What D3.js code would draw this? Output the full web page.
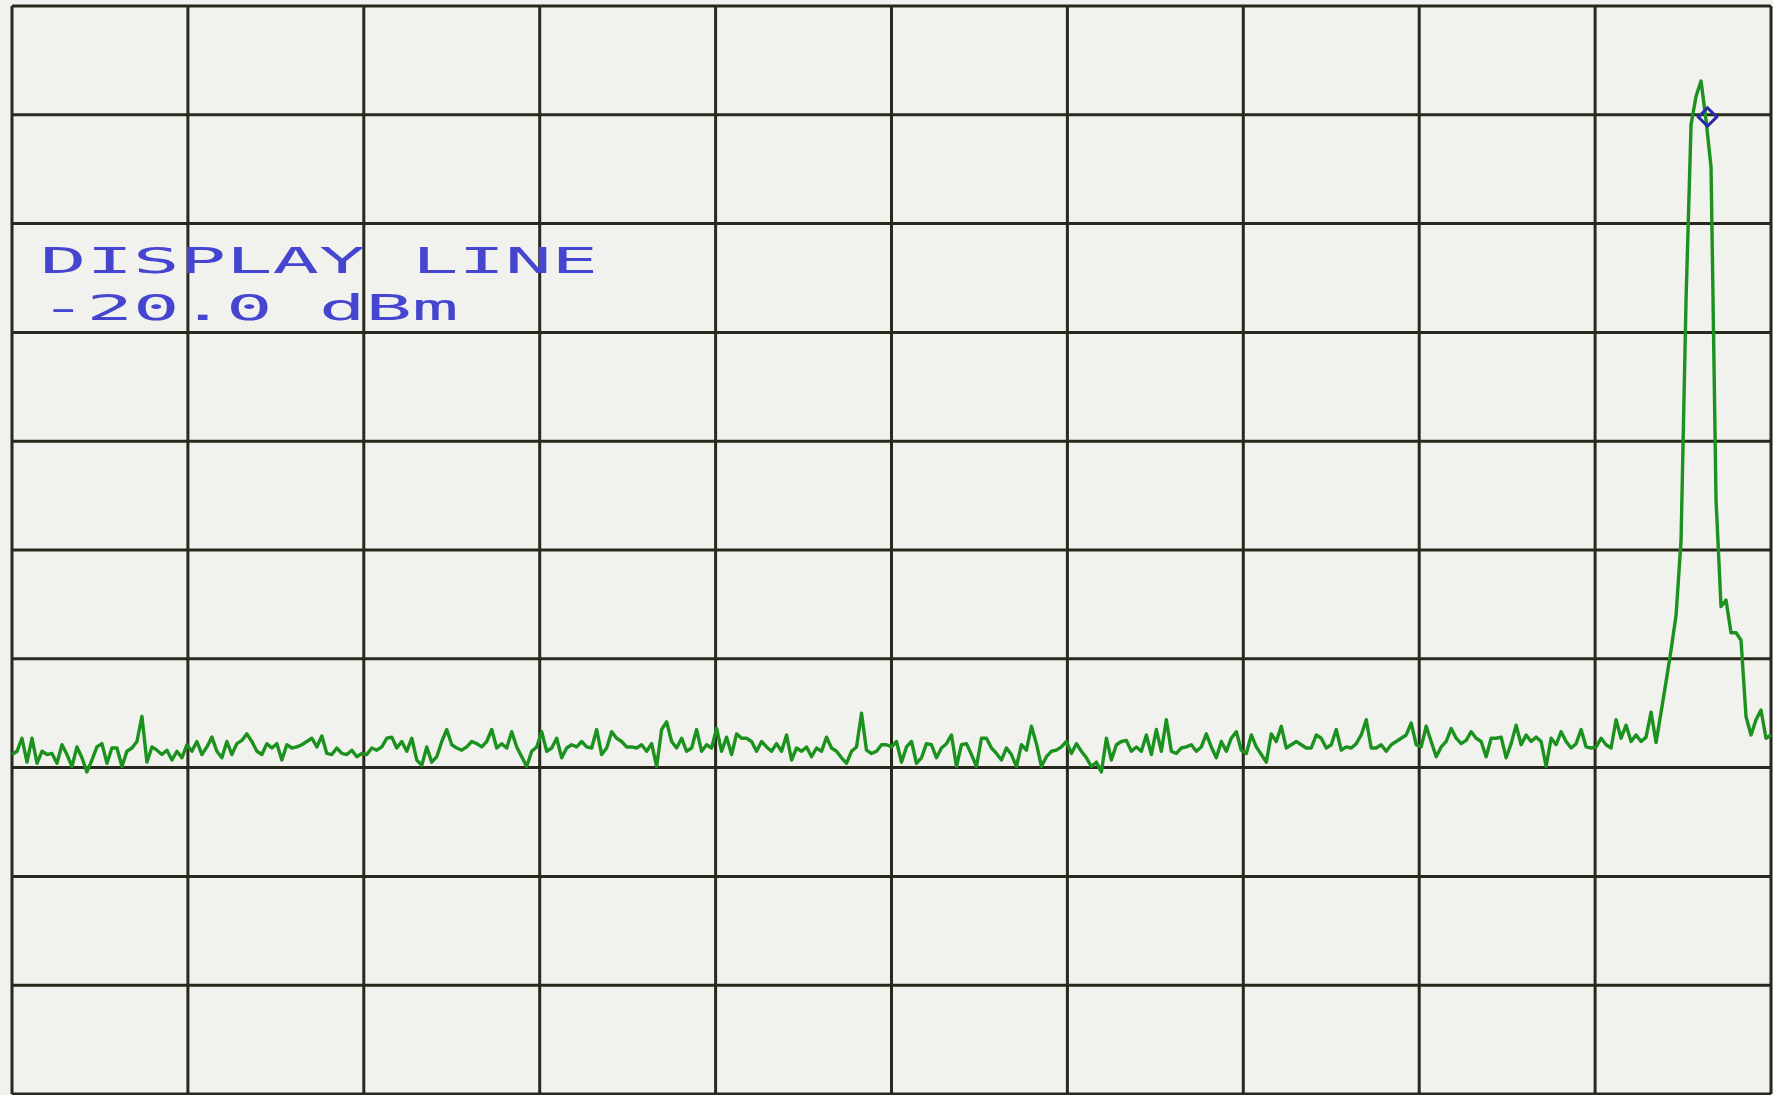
<!DOCTYPE html>
<html>
<head>
<meta charset="utf-8">
<script src="https://cdn.jsdelivr.net/npm/d3@7"></script>
<style>
  html, body { margin: 0; padding: 0; background: #f1f1ee; overflow: hidden; }
  .grid-line { stroke: #29281d; stroke-width: 3; }
  .trace { fill: none; stroke: #1b921e; stroke-width: 3.4; stroke-linejoin: round; }
  .marker { fill: none; stroke: #2a2aa8; stroke-width: 3; }
  .annotation { fill: #4545d0; font-family: 'DejaVu Sans Mono', monospace; font-size: 36px; }
</style>
</head>
<body>
<div id="screen"></div>
<script>
// Trace amplitude (dBm) for each sweep point left to right
const traceLevels = [
  -68.8,-68.5,-67.3,-69.5,-67.3,-69.6,-68.5,-68.8,-68.7,-69.6,
  -67.9,-68.8,-69.9,-68.1,-69.1,-70.4,-69.3,-68.1,-67.8,-69.6,
  -68.2,-68.2,-69.9,-68.5,-68.2,-67.6,-65.3,-69.5,-68.1,-68.4,
  -68.8,-68.4,-69.3,-68.5,-69.1,-67.9,-68.5,-67.6,-68.8,-68.1,
  -67.2,-68.5,-69.1,-67.6,-68.8,-67.8,-67.5,-66.9,-67.6,-68.5,
  -68.8,-67.8,-68.2,-67.8,-69.3,-67.9,-68.2,-68.1,-67.9,-67.6,
  -67.3,-68.1,-67.1,-68.7,-68.8,-68.2,-68.7,-68.8,-68.4,-69.0,
  -68.7,-68.8,-68.2,-68.4,-68.1,-67.3,-67.2,-68.2,-67.6,-68.5,
  -67.3,-69.3,-69.8,
  -68.1,-69.5,-69.0,-67.6,-66.5,-67.9,-68.2,-68.4,-68.1,-67.6,
  -67.8,-68.1,-67.6,-66.5,-68.2,-67.8,-68.2,-66.7,-68.1,-69.0,
  -69.9,-68.5,-68.1,-66.7,-68.5,-68.2,-67.3,-69.1,-68.2,-67.9,
  -68.1,-67.6,-68.1,-68.2,-66.5,-68.8,-68.2,-66.7,-67.3,-67.6,
  -68.1,-68.1,-68.2,-67.9,-68.5,-67.8,-69.9,-66.5,-65.8,-67.6,
  -68.2,-67.3,-68.5,-68.2,-66.5,-68.5,-67.9,-68.2,-66.4,-68.5,
  -67.2,-68.8,-66.9,-67.3,-67.3,-67.6,-68.5,-67.6,-68.1,-68.5,
  -67.8,-68.5,-67.0,-69.3,-68.2,-68.5,-68.1,-69.0,-68.2,-68.5,-67.2,
  -68.2,-68.5,-69.1,-69.6,-68.5,-68.1,-65.0,-68.4,-68.7,-68.5,
  -67.9,-67.9,-68.1,-67.6,-69.5,-68.1,-67.6,-69.6,-69.1,-67.8,
  -67.9,-69.1,-68.2,-67.8,-67.0,-69.9,-67.9,-67.8,-68.8,-69.9,
  -67.3,-67.3,-68.2,-68.7,-69.3,-68.2,-68.8,-69.9,-67.9,-68.4,
  -66.2,-67.8,-69.9,-69.0,-68.5,-68.4,-68.1,-67.6,-68.7,-67.8,
  -68.5,-69.1,-69.9,-69.5,-70.4,-67.3,-69.3,-67.9,-67.6,-67.5,
  -68.5,-68.1,-68.5,-67.0,-68.8,-66.5,-68.5,-65.6,-68.5,-68.7,
  -68.2,-68.1,-67.9,-68.5,-68.1,-66.9,-68.1,-69.1,-67.6,-68.5,-67.3,-66.7,
  -68.4,-68.7,-67.0,-68.1,-68.8,-69.5,-66.9,-67.6,-66.2,-68.2,
  -67.9,-67.6,-67.9,-68.2,-68.2,-67.0,-67.3,-68.2,-67.9,-66.5,
  -68.4,-68.1,-68.2,-67.8,-67.0,-65.6,-68.2,-68.2,-67.9,-68.5,
  -67.9,-67.6,-67.3,-67.0,-65.9,-67.9,-68.1,-66.2,-67.6,-69.0,
  -68.1,-67.6,-66.4,-67.3,-67.8,-67.5,-66.7,-67.3,-67.6,-69.0,
  -67.3,-67.3,-67.2,-69.1,-67.8,-66.1,-67.9,-67.0,-67.6,-67.2,
  -67.6,-69.9,-67.3,-67.9,-66.7,-67.6,-68.2,-67.8,-66.5,-68.1,
  -68.2,-68.1,-67.3,-67.9,-68.2,-65.6,-67.3,-66.1,-67.6,-67.0,-67.6,-67.2,
  // carrier
  -64.9,-67.7,-64.9,-62.1,-59.2,-56.0,-49.1,-27.0,-10.9,-8.3,
  -6.9,-10.5,-14.8,-45.4,-55.2,-54.6,-57.6,-57.6,-58.3,-65.3,
  -67.0,-65.6,-64.7,-67.3,-67.0
];

// Vertical graticule: reference level at top, 10 dB per division
const levelLines = [0, -10, -20, -30, -40, -50, -60, -70, -80, -90, -100];
// Horizontal graticule: 10 frequency divisions
const divisionLines = [0, 1, 2, 3, 4, 5, 6, 7, 8, 9, 10];

// Marker on the carrier peak
const markerPoint = 339.3;
const markerLevel = -10.2;

const annotationLines = ['DISPLAY LINE', '-20.0 dBm'];

class SpectrumScreen {
  constructor(_config, _trace) {
    this.config = {
      parentElement: _config.parentElement,
      containerWidth: _config.containerWidth || 1773,
      containerHeight: _config.containerHeight || 1095,
      margin: _config.margin || { top: 6, right: 2, bottom: 1, left: 12 },
      charPitch: 46.5
    }
    this.trace = _trace;
    this.initVis();
  }

  initVis() {
    let vis = this;

    vis.width = vis.config.containerWidth - vis.config.margin.left - vis.config.margin.right;
    vis.height = vis.config.containerHeight - vis.config.margin.top - vis.config.margin.bottom;

    vis.svg = d3.select(vis.config.parentElement).append('svg')
      .attr('width', vis.config.containerWidth)
      .attr('height', vis.config.containerHeight)
      .style('display', 'block');

    vis.chart = vis.svg.append('g')
      .attr('transform', `translate(${vis.config.margin.left},${vis.config.margin.top})`);

    // sweep point -> x, division -> x, dBm -> y
    vis.xScale = d3.scaleLinear()
      .domain([0, vis.trace.length - 1])
      .range([0, vis.width]);
    vis.divScale = d3.scaleLinear()
      .domain([0, 10])
      .range([0, vis.width]);
    vis.yScale = d3.scaleLinear()
      .domain([0, -100])
      .range([0, vis.height]);

    vis.renderVis();
  }

  renderVis() {
    let vis = this;

    // graticule
    vis.chart.selectAll('.grid-h')
      .data(levelLines)
      .join('line')
      .attr('class', 'grid-line grid-h')
      .attr('x1', 0)
      .attr('x2', vis.width)
      .attr('y1', d => vis.yScale(d))
      .attr('y2', d => vis.yScale(d));

    vis.chart.selectAll('.grid-v')
      .data(divisionLines)
      .join('line')
      .attr('class', 'grid-line grid-v')
      .attr('x1', d => vis.divScale(d))
      .attr('x2', d => vis.divScale(d))
      .attr('y1', 0)
      .attr('y2', vis.height);

    // annotation text, stretched to the plotter's wide character cell
    vis.svg.selectAll('.annotation')
      .data(annotationLines)
      .join('text')
      .attr('class', 'annotation')
      .attr('x', 40)
      .attr('y', (d, i) => 273 + i * 47)
      .attr('textLength', d => d.length * vis.config.charPitch)
      .attr('lengthAdjust', 'spacingAndGlyphs')
      .text(d => d);

    // trace
    const line = d3.line()
      .x((d, i) => vis.xScale(i))
      .y(d => vis.yScale(d));

    vis.chart.append('path')
      .datum(vis.trace)
      .attr('class', 'trace')
      .attr('d', line);

    // peak marker
    vis.chart.append('path')
      .attr('class', 'marker')
      .attr('d', d3.symbol(d3.symbolSquare, 170)())
      .attr('transform', `translate(${vis.xScale(markerPoint)},${vis.yScale(markerLevel)}) rotate(45)`);
  }
}

new SpectrumScreen({ parentElement: '#screen' }, traceLevels);
</script>
</body>
</html>
